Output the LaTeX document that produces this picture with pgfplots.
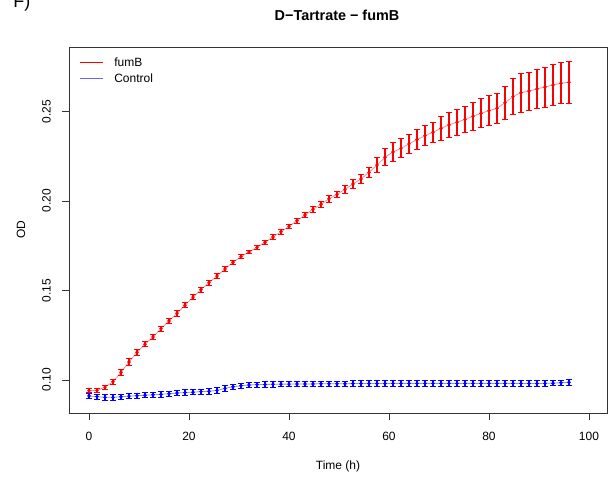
\documentclass[border=0pt]{standalone}
\usepackage{pgfplots}
\usepackage{pgfplotstable}
\pgfplotsset{compat=1.18}
\usepackage{fontspec}
\setmainfont{Liberation Sans}
\definecolor{rred}{RGB}{250,0,0}
\definecolor{rblue}{RGB}{0,0,250}
\pgfplotstableread{
t y
0.0 0.0940
1.6 0.0942
3.2 0.0960
4.8 0.0990
6.4 0.1043
8.0 0.1100
9.6 0.1155
11.2 0.1200
12.8 0.1240
14.4 0.1287
16.0 0.1330
17.6 0.1373
19.2 0.1418
20.8 0.1463
22.4 0.1505
24.0 0.1544
25.6 0.1581
27.2 0.1620
28.8 0.1658
30.4 0.1689
32.0 0.1715
33.6 0.1741
35.2 0.1769
36.8 0.1799
38.4 0.1828
40.0 0.1858
41.6 0.1890
43.2 0.1922
44.8 0.1954
46.4 0.1982
48.0 0.2012
49.6 0.2037
51.2 0.2065
52.8 0.2095
54.4 0.2123
56.0 0.2160
57.6 0.2201
59.2 0.2244
60.8 0.2274
62.4 0.2294
64.0 0.2319
65.6 0.2343
67.2 0.2365
68.8 0.2384
70.4 0.2406
72.0 0.2425
73.6 0.2440
75.2 0.2456
76.8 0.2473
78.4 0.2490
80.0 0.2504
81.6 0.2518
83.2 0.2549
84.8 0.2583
86.4 0.2605
88.0 0.2614
89.6 0.2626
91.2 0.2637
92.8 0.2648
94.4 0.2658
96.0 0.2663
}\fumB
\pgfplotstableread{
t y
0.0 0.0911
1.6 0.0907
3.2 0.0903
4.8 0.0903
6.4 0.0906
8.0 0.0910
9.6 0.0912
11.2 0.0915
12.8 0.0917
14.4 0.0920
16.0 0.0923
17.6 0.0927
19.2 0.0930
20.8 0.0932
22.4 0.0935
24.0 0.0937
25.6 0.0942
27.2 0.0953
28.8 0.0962
30.4 0.0968
32.0 0.0972
33.6 0.0974
35.2 0.0975
36.8 0.0976
38.4 0.0977
40.0 0.0977
41.6 0.0978
43.2 0.0978
44.8 0.0978
46.4 0.0979
48.0 0.0979
49.6 0.0979
51.2 0.0979
52.8 0.0980
54.4 0.0980
56.0 0.0980
57.6 0.0980
59.2 0.0980
60.8 0.0981
62.4 0.0981
64.0 0.0981
65.6 0.0981
67.2 0.0981
68.8 0.0981
70.4 0.0981
72.0 0.0981
73.6 0.0981
75.2 0.0981
76.8 0.0981
78.4 0.0981
80.0 0.0981
81.6 0.0981
83.2 0.0981
84.8 0.0981
86.4 0.0981
88.0 0.0980
89.6 0.0980
91.2 0.0981
92.8 0.0982
94.4 0.0985
96.0 0.0987
}\control
\begin{document}
\begin{tikzpicture}
\useasboundingbox (0,0) rectangle (459pt,360.75pt);
\node[overlay, anchor=base west, font=\fontsize{13.5}{16}\selectfont, inner sep=0pt] at (9.75pt,354.75pt) {F)};
\node[anchor=center, font=\bfseries\fontsize{10.8}{13}\selectfont, inner sep=0pt] at (252.75pt,349.5pt) {D−Tartrate − fumB};
\begin{axis}[
  at={(51.75pt,51pt)}, anchor=south west,
  scale only axis, width=403.5pt, height=274.5pt,
  xmin=-4, xmax=103.6, ymin=0.08156, ymax=0.28603,
  axis line style={black!80, line width=0.6pt},
  tick style={black!80, line width=0.6pt},
  tick align=outside, major tick length=5.25pt,
  xtick={0,20,40,60,80,100}, ytick={0.10,0.15,0.20,0.25},
  xtick pos=bottom, ytick pos=left,
  unbounded coords=jump,
  /pgf/number format/assume math mode=true,
  yticklabel style={rotate=90, anchor=south, inner sep=0pt, yshift=8.25pt, font=\fontsize{9}{11}\selectfont,
    /pgf/number format/fixed, /pgf/number format/fixed zerofill, /pgf/number format/precision=2},
  xticklabel style={anchor=north, inner sep=0pt, yshift=-9pt, font=\fontsize{9}{11}\selectfont},
  xlabel={Time (h)}, ylabel={OD},
  xlabel style={at={(axis description cs:0.5,0)}, anchor=center, yshift=-39.75pt, inner sep=0pt, font=\fontsize{9}{11}\selectfont},
  ylabel style={at={(axis description cs:0,0.5)}, anchor=center, yshift=36pt, inner sep=0pt, font=\fontsize{9}{11}\selectfont},
  legend style={at={(axis description cs:0,1)}, anchor=north west, draw=none, fill=none, inner sep=0pt,
    xshift=8pt, yshift=-6pt, font=\fontsize{9}{11}\selectfont, row sep=0pt, cells={anchor=west},
    /tikz/every odd column/.append style={column sep=6.75pt}},
]
\addlegendimage{legend image code/.code={\node[anchor=west, inner sep=0pt] at (0pt,0pt) {\textcolor{red}{\rule[-0.3pt]{17pt}{0.6pt}}};}}
\addlegendentry{fumB}
\addlegendimage{legend image code/.code={\node[anchor=west, inner sep=0pt] at (0pt,0pt) {\textcolor{blue!60}{\rule[-0.3pt]{17pt}{0.6pt}}};}}
\addlegendentry{Control}

% fumB
\addplot[forget plot, draw=red!45, no markers, line width=0.6pt] table[x=t, y=y] {\fumB};
\addplot[forget plot, draw=rred, color=rred, line width=0.9pt, mark=-, mark size=2.25pt, mark options={draw=rred, line width=0.6pt}] coordinates {
(0.0,0.0928) (0.0,0.0952) (0.0,nan)
(1.6,0.0930) (1.6,0.0954) (1.6,nan)
(3.2,0.0950) (3.2,0.0970) (3.2,nan)
(4.8,0.0978) (4.8,0.1002) (4.8,nan)
(6.4,0.1028) (6.4,0.1058) (6.4,nan)
(8.0,0.1082) (8.0,0.1118) (8.0,nan)
(9.6,0.1137) (9.6,0.1173) (9.6,nan)
(11.2,0.1185) (11.2,0.1215) (11.2,nan)
(12.8,0.1225) (12.8,0.1255) (12.8,nan)
(14.4,0.1272) (14.4,0.1302) (14.4,nan)
(16.0,0.1315) (16.0,0.1345) (16.0,nan)
(17.6,0.1358) (17.6,0.1388) (17.6,nan)
(19.2,0.1403) (19.2,0.1433) (19.2,nan)
(20.8,0.1448) (20.8,0.1478) (20.8,nan)
(22.4,0.1492) (22.4,0.1518) (22.4,nan)
(24.0,0.1531) (24.0,0.1557) (24.0,nan)
(25.6,0.1568) (25.6,0.1594) (25.6,nan)
(27.2,0.1607) (27.2,0.1633) (27.2,nan)
(28.8,0.1646) (28.8,0.1670) (28.8,nan)
(30.4,0.1679) (30.4,0.1699) (30.4,nan)
(32.0,0.1705) (32.0,0.1725) (32.0,nan)
(33.6,0.1731) (33.6,0.1751) (33.6,nan)
(35.2,0.1759) (35.2,0.1779) (35.2,nan)
(36.8,0.1787) (36.8,0.1811) (36.8,nan)
(38.4,0.1816) (38.4,0.1840) (38.4,nan)
(40.0,0.1845) (40.0,0.1871) (40.0,nan)
(41.6,0.1876) (41.6,0.1904) (41.6,nan)
(43.2,0.1907) (43.2,0.1937) (43.2,nan)
(44.8,0.1938) (44.8,0.1970) (44.8,nan)
(46.4,0.1965) (46.4,0.1999) (46.4,nan)
(48.0,0.1994) (48.0,0.2030) (48.0,nan)
(49.6,0.2018) (49.6,0.2056) (49.6,nan)
(51.2,0.2044) (51.2,0.2086) (51.2,nan)
(52.8,0.2072) (52.8,0.2118) (52.8,nan)
(54.4,0.2097) (54.4,0.2149) (54.4,nan)
(56.0,0.2130) (56.0,0.2190) (56.0,nan)
(57.6,0.2161) (57.6,0.2241) (57.6,nan)
(59.2,0.2197) (59.2,0.2291) (59.2,nan)
(60.8,0.2223) (60.8,0.2325) (60.8,nan)
(62.4,0.2241) (62.4,0.2347) (62.4,nan)
(64.0,0.2265) (64.0,0.2373) (64.0,nan)
(65.6,0.2287) (65.6,0.2399) (65.6,nan)
(67.2,0.2310) (67.2,0.2420) (67.2,nan)
(68.8,0.2327) (68.8,0.2441) (68.8,nan)
(70.4,0.2339) (70.4,0.2473) (70.4,nan)
(72.0,0.2355) (72.0,0.2495) (72.0,nan)
(73.6,0.2367) (73.6,0.2513) (73.6,nan)
(75.2,0.2383) (75.2,0.2529) (75.2,nan)
(76.8,0.2396) (76.8,0.2550) (76.8,nan)
(78.4,0.2409) (78.4,0.2571) (78.4,nan)
(80.0,0.2420) (80.0,0.2588) (80.0,nan)
(81.6,0.2434) (81.6,0.2602) (81.6,nan)
(83.2,0.2456) (83.2,0.2642) (83.2,nan)
(84.8,0.2482) (84.8,0.2684) (84.8,nan)
(86.4,0.2496) (86.4,0.2714) (86.4,nan)
(88.0,0.2507) (88.0,0.2721) (88.0,nan)
(89.6,0.2517) (89.6,0.2735) (89.6,nan)
(91.2,0.2525) (91.2,0.2749) (91.2,nan)
(92.8,0.2534) (92.8,0.2762) (92.8,nan)
(94.4,0.2544) (94.4,0.2772) (94.4,nan)
(96.0,0.2547) (96.0,0.2779)
};
\addplot[forget plot, red, only marks, mark=*, mark size=1.1pt] table[x=t, y=y] {\fumB};

% Control
\addplot[forget plot, draw=blue!45, no markers, line width=0.6pt] table[x=t, y=y] {\control};
\addplot[forget plot, draw=rblue, color=rblue, line width=0.9pt, mark=-, mark size=2.25pt, mark options={draw=rblue, line width=0.6pt}] coordinates {
(0.0,0.0896) (0.0,0.0926) (0.0,nan)
(1.6,0.0892) (1.6,0.0922) (1.6,nan)
(3.2,0.0888) (3.2,0.0918) (3.2,nan)
(4.8,0.0888) (4.8,0.0918) (4.8,nan)
(6.4,0.0891) (6.4,0.0921) (6.4,nan)
(8.0,0.0895) (8.0,0.0925) (8.0,nan)
(9.6,0.0897) (9.6,0.0927) (9.6,nan)
(11.2,0.0900) (11.2,0.0930) (11.2,nan)
(12.8,0.0902) (12.8,0.0932) (12.8,nan)
(14.4,0.0905) (14.4,0.0935) (14.4,nan)
(16.0,0.0908) (16.0,0.0938) (16.0,nan)
(17.6,0.0912) (17.6,0.0942) (17.6,nan)
(19.2,0.0915) (19.2,0.0945) (19.2,nan)
(20.8,0.0917) (20.8,0.0947) (20.8,nan)
(22.4,0.0920) (22.4,0.0950) (22.4,nan)
(24.0,0.0922) (24.0,0.0952) (24.0,nan)
(25.6,0.0927) (25.6,0.0957) (25.6,nan)
(27.2,0.0938) (27.2,0.0968) (27.2,nan)
(28.8,0.0947) (28.8,0.0977) (28.8,nan)
(30.4,0.0953) (30.4,0.0983) (30.4,nan)
(32.0,0.0957) (32.0,0.0987) (32.0,nan)
(33.6,0.0959) (33.6,0.0989) (33.6,nan)
(35.2,0.0960) (35.2,0.0990) (35.2,nan)
(36.8,0.0961) (36.8,0.0991) (36.8,nan)
(38.4,0.0962) (38.4,0.0992) (38.4,nan)
(40.0,0.0962) (40.0,0.0992) (40.0,nan)
(41.6,0.0963) (41.6,0.0993) (41.6,nan)
(43.2,0.0963) (43.2,0.0993) (43.2,nan)
(44.8,0.0963) (44.8,0.0993) (44.8,nan)
(46.4,0.0964) (46.4,0.0994) (46.4,nan)
(48.0,0.0964) (48.0,0.0994) (48.0,nan)
(49.6,0.0964) (49.6,0.0994) (49.6,nan)
(51.2,0.0964) (51.2,0.0994) (51.2,nan)
(52.8,0.0965) (52.8,0.0995) (52.8,nan)
(54.4,0.0965) (54.4,0.0995) (54.4,nan)
(56.0,0.0965) (56.0,0.0995) (56.0,nan)
(57.6,0.0965) (57.6,0.0995) (57.6,nan)
(59.2,0.0965) (59.2,0.0995) (59.2,nan)
(60.8,0.0966) (60.8,0.0996) (60.8,nan)
(62.4,0.0966) (62.4,0.0996) (62.4,nan)
(64.0,0.0966) (64.0,0.0996) (64.0,nan)
(65.6,0.0966) (65.6,0.0996) (65.6,nan)
(67.2,0.0966) (67.2,0.0996) (67.2,nan)
(68.8,0.0966) (68.8,0.0996) (68.8,nan)
(70.4,0.0966) (70.4,0.0996) (70.4,nan)
(72.0,0.0966) (72.0,0.0996) (72.0,nan)
(73.6,0.0966) (73.6,0.0996) (73.6,nan)
(75.2,0.0966) (75.2,0.0996) (75.2,nan)
(76.8,0.0966) (76.8,0.0996) (76.8,nan)
(78.4,0.0966) (78.4,0.0996) (78.4,nan)
(80.0,0.0966) (80.0,0.0996) (80.0,nan)
(81.6,0.0966) (81.6,0.0996) (81.6,nan)
(83.2,0.0966) (83.2,0.0996) (83.2,nan)
(84.8,0.0966) (84.8,0.0996) (84.8,nan)
(86.4,0.0966) (86.4,0.0996) (86.4,nan)
(88.0,0.0965) (88.0,0.0995) (88.0,nan)
(89.6,0.0965) (89.6,0.0995) (89.6,nan)
(91.2,0.0966) (91.2,0.0996) (91.2,nan)
(92.8,0.0967) (92.8,0.0997) (92.8,nan)
(94.4,0.0970) (94.4,0.1000) (94.4,nan)
(96.0,0.0972) (96.0,0.1002)
};
\addplot[forget plot, blue, only marks, mark=*, mark size=1.1pt] table[x=t, y=y] {\control};
\end{axis}
\end{tikzpicture}
\end{document}
